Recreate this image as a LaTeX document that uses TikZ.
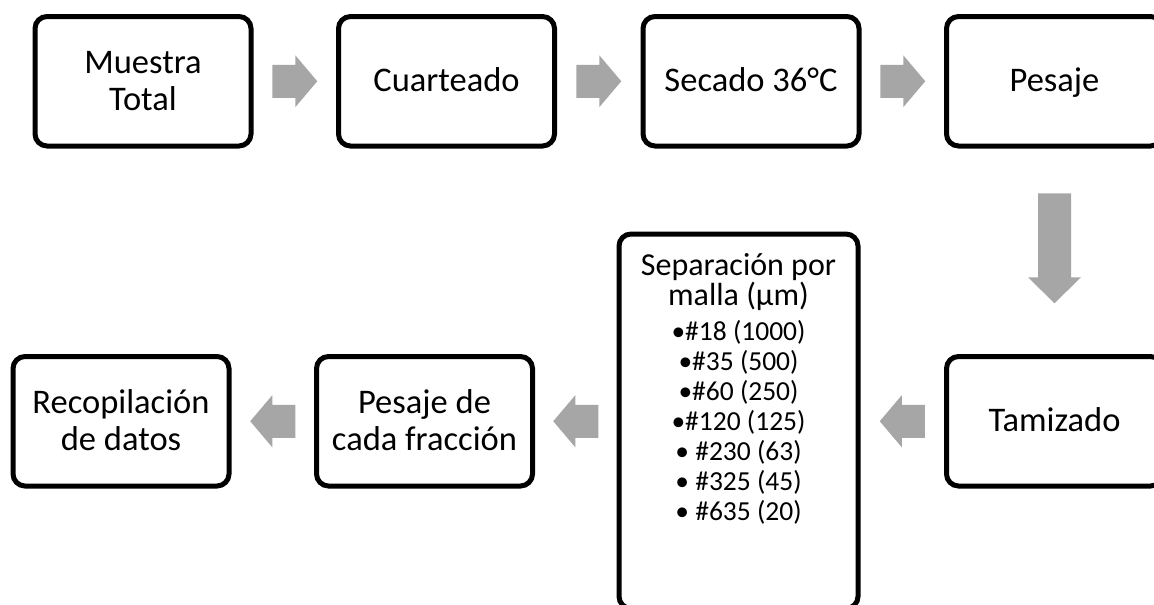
\documentclass[tikz,border=0pt]{standalone}
\usepackage{fontspec}
\setmainfont{Carlito}
\usetikzlibrary{calc}
\definecolor{arrowgray}{HTML}{A6A6A6}
\newcommand{\ls}{\rule[-0.21em]{0pt}{1.04em}}
\tikzset{
  box/.style={draw=black, line width=5pt, rounded corners=12pt, minimum width=216pt,
    minimum height=129.5pt, align=center, inner sep=0pt, fill=white,
    font=\fontsize{34.5}{37}\selectfont},
  seplabel/.style={anchor=base, inner sep=0pt, font=\fontsize{32}{30}\selectfont},
  sepitem/.style={anchor=base, inner sep=0pt, font=\fontsize{27.5}{30}\selectfont},
  pics/rarr/.style={code={
    \fill[arrowgray] (-22.5,-16.5) -- (0.5,-16.5) -- (0.5,-26) -- (22.5,0)
      -- (0.5,26) -- (0.5,16.5) -- (-22.5,16.5) -- cycle;}},
  pics/darr/.style={code={
    \fill[arrowgray] (-16.5,-55) -- (16.5,-55) -- (16.5,29) -- (26.5,29)
      -- (0,55) -- (-26.5,29) -- (-16.5,29) -- cycle;}}
}
\begin{document}
\begin{tikzpicture}[x=1pt,y=-1pt]
\useasboundingbox (0,0) rectangle (1154,605);
\clip (0,0) rectangle (1154,605);
\fill[white] (0,0) rectangle (1154,605);
% top row
\node[box] (muestra) at (143,81.25) {\ls Muestra\\\ls Total};
\node[box] (cuart) at (446.5,81.25) {\ls Cuarteado};
\node[box] (secado) at (751,81.25) {\ls Secado 36°C};
\node[box] (pesaje) at (1054.5,81.25) {\ls Pesaje};
% bottom row
\node[box] (tamiz) at (1054.5,421.25) {\ls Tamizado};
\node[box, minimum width=239pt, minimum height=374.5pt] (sep) at (738.5,421.25) {};
\node[box] (pesfrac) at (424.5,421.25) {\ls Pesaje de\\\ls cada fracción};
\node[box] (recop) at (121,421.25) {\ls Recopilación\\\ls de datos};
% separation text
\node[seplabel] (s1) at (738.5,275) {Separación por};
\node[seplabel] (s2) at (738.5,305) {malla (μm)};
\node[sepitem] (i1) at (738.5,340.5) {•\#18 (1000)};
\node[sepitem] (i2) at (738.5,370) {•\#35 (500)};
\node[sepitem] (i3) at (738.5,400) {•\#60 (250)};
\node[sepitem] (i4) at (738.5,430) {•\#120 (125)};
\node[sepitem] (i5) at (738.5,460) {• \#230 (63)};
\node[sepitem] (i6) at (738.5,490) {• \#325 (45)};
\node[sepitem] (i7) at (738.5,520) {• \#635 (20)};
% block arrows
\pic at ($(muestra.east)!0.5!(cuart.west)$) {rarr};
\pic at ($(cuart.east)!0.5!(secado.west)$) {rarr};
\pic at ($(secado.east)!0.5!(pesaje.west)$) {rarr};
\pic at ($($(pesaje.south)!0.5!(tamiz.north)$)+(0,-3)$) {darr};
\pic[rotate=180] at ($(tamiz.west)!0.5!(sep.east)$) {rarr};
\pic[rotate=180] at ($(sep.west)!0.5!(pesfrac.east)$) {rarr};
\pic[rotate=180] at ($(pesfrac.west)!0.5!(recop.east)$) {rarr};
\end{tikzpicture}
\end{document}
